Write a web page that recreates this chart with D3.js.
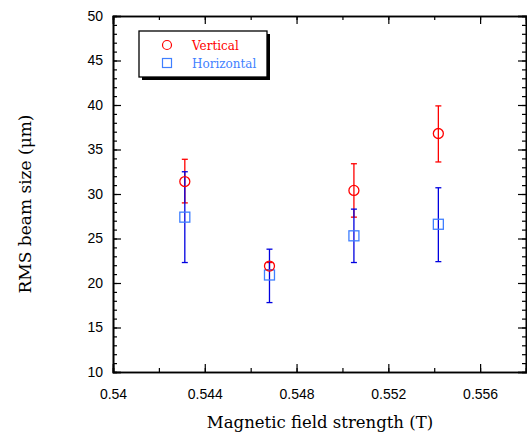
<!DOCTYPE html>
<html>
<head>
<meta charset="utf-8">
<script src="https://cdn.jsdelivr.net/npm/d3@7"></script>
<style>
  body { margin: 0; background: #fff; }
  svg { display: block; font-family: "DejaVu Serif", "Liberation Serif", serif; }
</style>
</head>
<body>
<div id="chart"></div>
<script>
// field strength (T) for each measurement
let fields = [0.54313, 0.54682, 0.5505, 0.55418]

// vertical beam size with error bar bounds
let vertical = [31.4, 21.9, 30.4, 36.8]
let verticalLow = [29.0, 21.5, 27.4, 33.6]
let verticalHigh = [33.9, 22.3, 33.4, 39.9]

// horizontal beam size with error bar bounds
let horizontal = [27.4, 20.9, 25.3, 26.6]
let horizontalLow = [22.3, 17.8, 22.3, 22.4]
let horizontalHigh = [32.5, 23.8, 28.3, 30.7]

let xTicks = [0.54, 0.544, 0.548, 0.552, 0.556]
let yTicks = [10, 15, 20, 25, 30, 35, 40, 45, 50]

let margin = { top: 16, left: 113, right: 1, bottom: 60 },
  width = 527 - margin.left - margin.right,
  height = 432 - margin.top - margin.bottom

let svg = d3.select("#chart")
  .append("svg")
  .attr("width", 527)
  .attr("height", 432)

let g = svg.append("g").attr("transform", "translate(" + margin.left + "," + margin.top + ")")

let x = d3.scaleLinear().domain([0.54, 0.558]).range([0, width])
let y = d3.scaleLinear().domain([10, 50]).range([height, 0])

let minorX = d3.range(0.54, 0.5581, 0.002)
let minorY = d3.range(10, 50.1, 1)

// axes: ticks point inward on all four sides
function styleAxis(sel) {
  sel.select(".domain").attr("stroke-width", 1.6)
  sel.selectAll(".tick line").attr("stroke-width", 1.2)
}

// bottom
g.append("g")
  .attr("transform", "translate(0," + height + ")")
  .call(d3.axisBottom(x).tickValues(minorX).tickSize(-4).tickFormat(""))
  .call(styleAxis)
g.append("g")
  .attr("transform", "translate(0," + height + ")")
  .call(d3.axisBottom(x).tickValues(xTicks).tickSize(-8).tickPadding(17)
    .tickFormat(function(d) { return d3.format(".3~f")(d) }))
  .call(styleAxis)
  .selectAll("text").style("font-size", "14px").attr("fill", "#000")

// top
g.append("g")
  .call(d3.axisTop(x).tickValues(minorX).tickSize(-4).tickFormat(""))
  .call(styleAxis)
g.append("g")
  .call(d3.axisTop(x).tickValues(xTicks).tickSize(-8).tickFormat(""))
  .call(styleAxis)

// left
g.append("g")
  .call(d3.axisLeft(y).tickValues(minorY).tickSize(-4).tickFormat(""))
  .call(styleAxis)
g.append("g")
  .call(d3.axisLeft(y).tickValues(yTicks).tickSize(-8).tickPadding(10))
  .call(styleAxis)
  .selectAll("text").style("font-size", "14px").attr("fill", "#000")

// right
g.append("g")
  .attr("transform", "translate(" + width + ",0)")
  .call(d3.axisRight(y).tickValues(minorY).tickSize(-4).tickFormat(""))
  .call(styleAxis)
g.append("g")
  .attr("transform", "translate(" + width + ",0)")
  .call(d3.axisRight(y).tickValues(yTicks).tickSize(-8).tickFormat(""))
  .call(styleAxis)

// error bars
function errorBars(lows, highs, color) {
  let eb = g.append("g").attr("stroke", color).attr("stroke-width", 1.3)
  fields.forEach(function(f, i) {
    let cx = x(f)
    eb.append("line").attr("x1", cx).attr("x2", cx).attr("y1", y(lows[i])).attr("y2", y(highs[i]))
    eb.append("line").attr("x1", cx - 3).attr("x2", cx + 3).attr("y1", y(lows[i])).attr("y2", y(lows[i]))
    eb.append("line").attr("x1", cx - 3).attr("x2", cx + 3).attr("y1", y(highs[i])).attr("y2", y(highs[i]))
  })
}

errorBars(verticalLow, verticalHigh, "#ff0000")
errorBars(horizontalLow, horizontalHigh, "#0000e0")

// markers
g.selectAll(".hmark")
  .data(horizontal)
  .enter().append("rect")
  .attr("class", "hmark")
  .attr("x", function(d, i) { return x(fields[i]) - 5 })
  .attr("y", function(d) { return y(d) - 5 })
  .attr("width", 10)
  .attr("height", 10)
  .attr("fill", "none")
  .attr("stroke", "#3f7fff")
  .attr("stroke-width", 1.3)

g.selectAll(".vmark")
  .data(vertical)
  .enter().append("circle")
  .attr("class", "vmark")
  .attr("cx", function(d, i) { return x(fields[i]) })
  .attr("cy", function(d) { return y(d) })
  .attr("r", 5)
  .attr("fill", "none")
  .attr("stroke", "#ff0000")
  .attr("stroke-width", 1.3)

// legend with drop shadow
let legend = svg.append("g").attr("transform", "translate(139,31)")
legend.append("rect")
  .attr("x", 3).attr("y", 3).attr("width", 128).attr("height", 46)
  .attr("fill", "#000")
legend.append("rect")
  .attr("width", 128).attr("height", 46)
  .attr("fill", "#fff").attr("stroke", "#000").attr("stroke-width", 1.3)

legend.append("circle")
  .attr("cx", 28).attr("cy", 14).attr("r", 4.5)
  .attr("fill", "none").attr("stroke", "#ff0000").attr("stroke-width", 1.2)
legend.append("rect")
  .attr("x", 23.5).attr("y", 27.5).attr("width", 9).attr("height", 9)
  .attr("fill", "none").attr("stroke", "#3f7fff").attr("stroke-width", 1.2)

legend.append("text")
  .attr("x", 53).attr("y", 18.5)
  .style("font-size", "12px").attr("fill", "#ff0000")
  .text("Vertical")
legend.append("text")
  .attr("x", 53).attr("y", 36.5)
  .style("font-size", "12px").attr("fill", "#3f7fff")
  .text("Horizontal")

// axis titles
svg.append("text")
  .attr("x", 320)
  .attr("y", 428)
  .attr("text-anchor", "middle")
  .style("font-size", "16.5px")
  .text("Magnetic field strength (T)")

svg.append("text")
  .attr("transform", "translate(31,204) rotate(-90)")
  .attr("text-anchor", "middle")
  .style("font-size", "17px")
  .text("RMS beam size (\u03bcm)")
</script>
</body>
</html>
